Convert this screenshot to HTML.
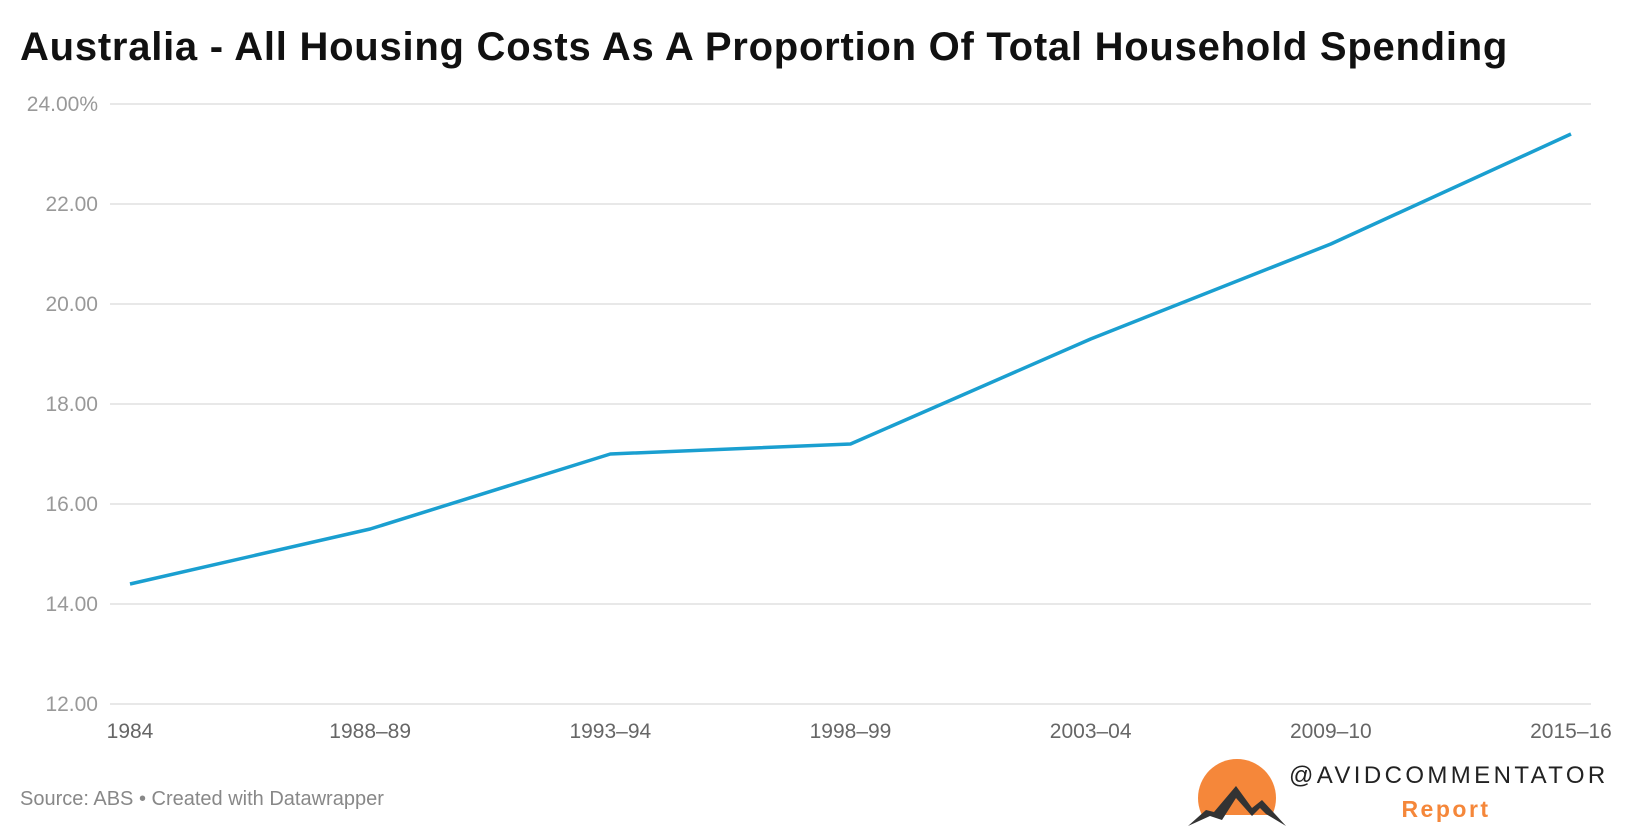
<!DOCTYPE html>
<html><head><meta charset="utf-8"><style>
body{margin:0;background:#fff;width:1640px;height:830px;overflow:hidden;font-family:"Liberation Sans",sans-serif}
</style></head><body>
<svg width="1640" height="830">
<text x="20" y="60" font-size="40" font-weight="bold" letter-spacing="0.75" fill="#111">Australia - All Housing Costs As A Proportion Of Total Household Spending</text>
<g id="grid"></g><g id="xl"></g>
<path id="line" fill="none" stroke="#1a9fd0" stroke-width="3.5" stroke-linejoin="round"/>
<text x="20" y="805" font-size="20" fill="#888">Source: ABS • Created with Datawrapper</text>
<g>
<clipPath id="cc"><rect x="1190" y="740" width="110" height="75"/></clipPath>
<circle cx="1237" cy="798" r="39" fill="#f5873a" clip-path="url(#cc)"/>
<path d="M1188,826 L1206,810 L1214,812 L1236,786 L1252,808 L1262,800 L1286,826 L1266,814 L1260,808 L1252,816 L1236,798 L1222,820 L1210,816 Z" fill="#333"/>
<text x="1289" y="783" font-size="24" letter-spacing="3.4" fill="#222">@AVIDCOMMENTATOR</text>
<text x="1446" y="817" font-size="23" font-weight="bold" letter-spacing="2.5" text-anchor="middle" fill="#f5873a">Report</text>
</g>
</svg>
<script>
const categories=["1984","1988–89","1993–94","1998–99","2003–04","2009–10","2015–16"];
const values=[14.4,15.5,17.0,17.2,19.3,21.2,23.4];
const ticks=[12,14,16,18,20,22,24];
const tickLabels=["12.00","14.00","16.00","18.00","20.00","22.00","24.00%"];
const ns="http://www.w3.org/2000/svg";
const y=v=>704-(v-12)/12*600;
const x=i=>130+i*(1571-130)/(categories.length-1);
const g=document.getElementById('grid');
ticks.forEach((t,i)=>{
 const l=document.createElementNS(ns,'line');
 
 
 l.setAttribute('x1',110);l.setAttribute('x2',1591);l.setAttribute('y1',y(t));l.setAttribute('y2',y(t));
 l.setAttribute('stroke','#e0e0e0');l.setAttribute('stroke-width',1.5);
 g.appendChild(l);
 const tx=document.createElementNS(ns,'text');
 
 
 tx.setAttribute('x',98);tx.setAttribute('y',y(t)+7);tx.setAttribute('text-anchor','end');
 tx.setAttribute('font-size',21);tx.setAttribute('fill','#999');tx.textContent=tickLabels[i];
 g.appendChild(tx);
});
const xl=document.getElementById('xl');
categories.forEach((c,i)=>{
 const tx=document.createElementNS(ns,'text');
 
 
 tx.setAttribute('x',x(i));tx.setAttribute('y',738);tx.setAttribute('text-anchor','middle');
 tx.setAttribute('font-size',21);tx.setAttribute('fill','#666');tx.textContent=c;
 xl.appendChild(tx);
});
document.getElementById('line').setAttribute('d',values.map((v,i)=>(i?'L':'M')+x(i)+','+y(v)).join(''));
</script>
</body></html>
